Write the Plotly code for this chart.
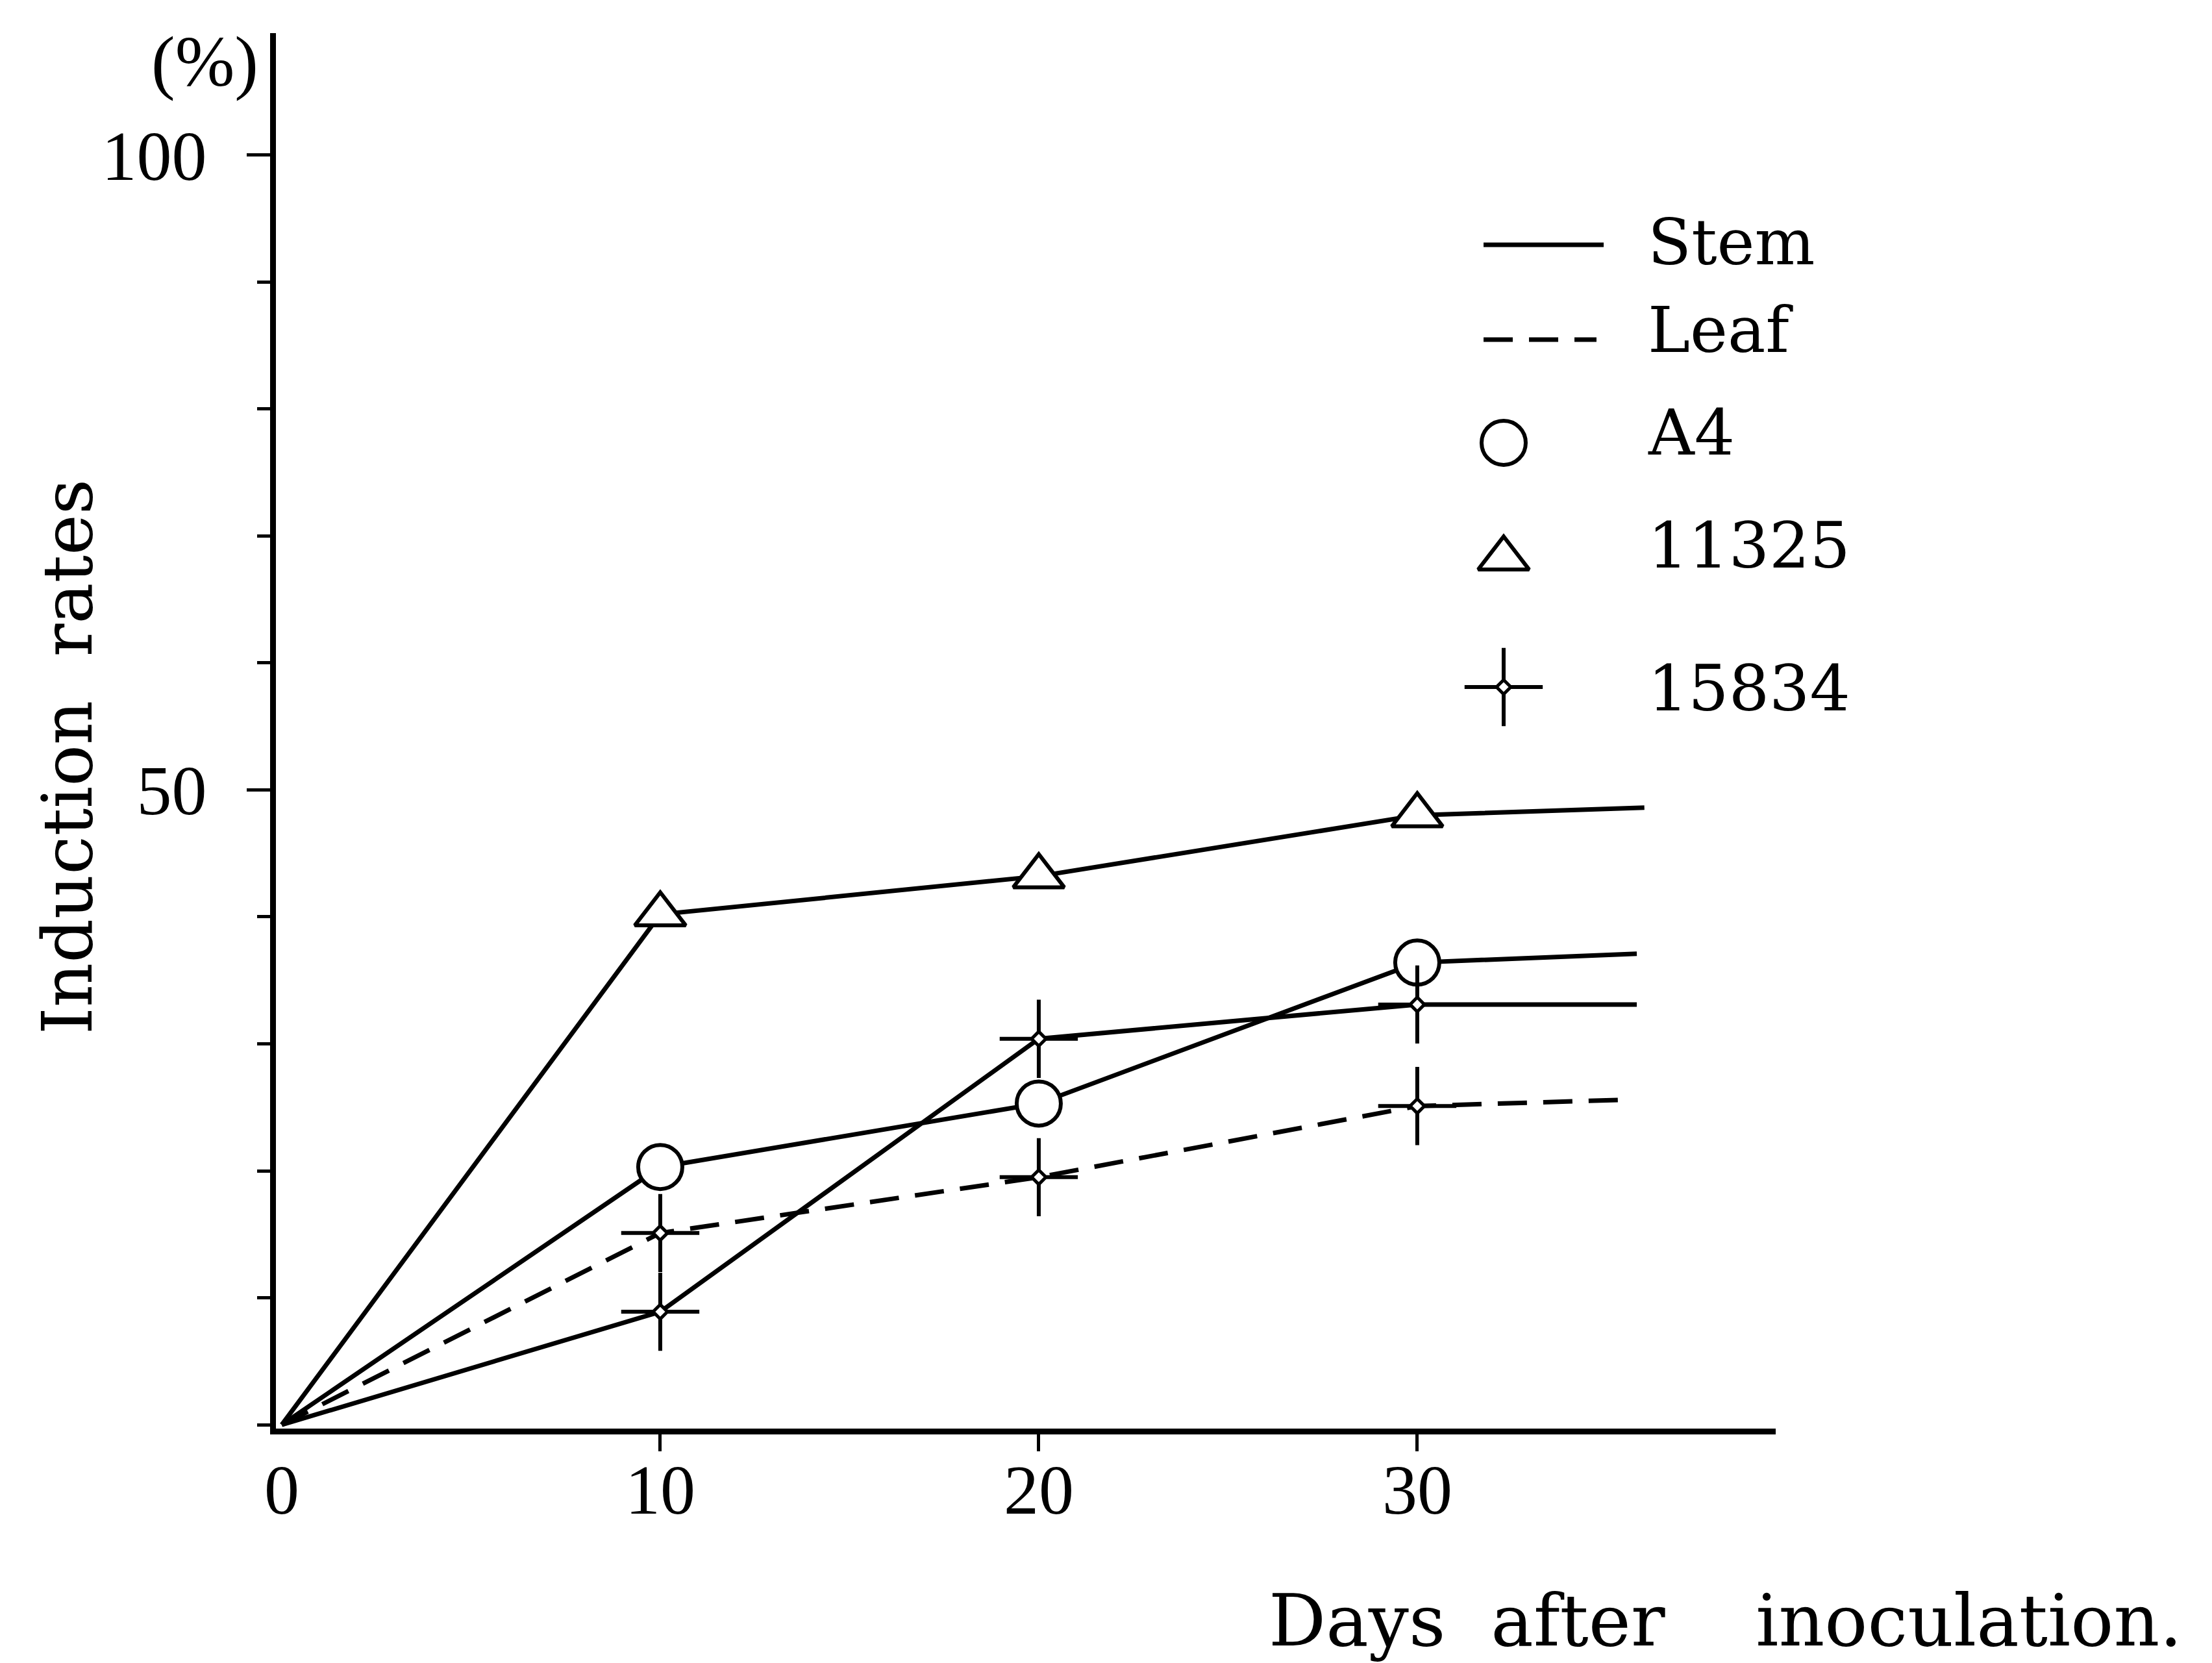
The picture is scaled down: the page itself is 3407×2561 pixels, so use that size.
import plotly.graph_objects as go

# ---- data ----
days = [0, 10, 20, 30]
stem_11325 = [0, 40.2, 43.2, 48.0]
stem_a4 = [0, 20.3, 25.3, 36.4]
stem_15834 = [0, 8.9, 30.4, 33.1]
leaf_15834 = [0, 15.1, 19.5, 25.1]
# trailing end point of each drawn line (day, value)
end_11325 = [36.0, 48.6]
end_a4 = [35.8, 37.1]
end_15834_stem = [35.8, 33.1]
end_15834_leaf = [35.5, 25.6]

x_tick_marks = [10, 20, 30]
x_tick_labels = [0, 10, 20, 30]
y_tick_labels = [50, 100]
legend_labels = ["Stem", "Leaf", "A4", "11325", "15834"]

BLACK = "black"
SERIF = "DejaVu Serif"
NUMF = "Liberation Serif"
LW = 7

fig = go.Figure()

series = [
    (stem_11325, end_11325, "solid", "triangle-up"),
    (stem_a4, end_a4, "solid", "circle"),
    (stem_15834, end_15834_stem, "solid", "cross"),
    (leaf_15834, end_15834_leaf, "45px,25px", "cross"),
]

# lines first
for vals, end, dash, _ in series:
    fig.add_trace(go.Scatter(
        x=days + [end[0]], y=vals + [end[1]], mode="lines",
        line=dict(color=BLACK, width=LW, dash=dash),
        hoverinfo="skip", cliponaxis=False))

# markers on top
def add_markers(x, y, sym, xa="x", ya="y"):
    if sym == "cross":
        fig.add_trace(go.Scatter(
            x=x, y=y, mode="markers", xaxis=xa, yaxis=ya,
            marker=dict(symbol="cross-thin", size=86, color=BLACK,
                        line=dict(color=BLACK, width=6)),
            hoverinfo="skip", cliponaxis=False))
        fig.add_trace(go.Scatter(
            x=x, y=y, mode="markers", xaxis=xa, yaxis=ya,
            marker=dict(symbol="diamond", size=17, color="white",
                        line=dict(color=BLACK, width=5)),
            hoverinfo="skip", cliponaxis=False))
    else:
        fig.add_trace(go.Scatter(
            x=x, y=y, mode="markers", xaxis=xa, yaxis=ya,
            marker=dict(symbol=sym, size=68, color="white",
                        line=dict(color=BLACK, width=6)),
            hoverinfo="skip", cliponaxis=False))

for vals, end, dash, sym in series:
    add_markers(days[1:], vals[1:], sym)

# ---- legend (drawn by hand in paper fractions of the plot area) ----
leg_text_x = 0.9140
leg_rows = [0.8500, 0.7872, 0.7137, 0.6327, 0.5307]
leg_line_x = [0.8052, 0.8853]
leg_sym_x = 0.8186
leg_sym_y = [0.7064, 0.6235, 0.5314]

for sym, yy in zip(["circle", "triangle-up", "cross"], leg_sym_y):
    add_markers([leg_sym_x], [yy], sym, xa="x2", ya="y2")

shapes = [
    dict(type="line", xref="paper", yref="paper", x0=leg_line_x[0], x1=leg_line_x[1],
         y0=0.8483, y1=0.8483, line=dict(color=BLACK, width=LW)),
    dict(type="line", xref="paper", yref="paper", x0=leg_line_x[0], x1=0.8805,
         y0=0.7804, y1=0.7804, line=dict(color=BLACK, width=LW, dash="45px,25px")),
]

annotations = []
for lab, yy in zip(legend_labels, leg_rows):
    annotations.append(dict(text=lab, xref="paper", yref="paper", x=leg_text_x, y=yy,
                            xanchor="left", yanchor="middle", showarrow=False,
                            font=dict(family=SERIF, size=98, color=BLACK)))

annotations += [
    dict(text="(%)", xref="paper", yref="paper", x=-0.0472, y=0.9795,
         xanchor="center", yanchor="middle", showarrow=False,
         font=dict(family=NUMF, size=110, color=BLACK)),
    dict(text="Induction  rates", xref="paper", yref="paper", x=-0.1390, y=0.4816,
         xanchor="center", yanchor="middle", textangle=-90, showarrow=False,
         font=dict(family=SERIF, size=106, color=BLACK)),
    dict(text="Days  after    inoculation.", xref="paper", yref="paper", x=0.6610, y=-0.1377,
         xanchor="left", yanchor="middle", showarrow=False,
         font=dict(family=SERIF, size=110, color=BLACK)),
]

# invisible anchor trace so the label axis is drawn
fig.add_trace(go.Scatter(x=[None], y=[None], xaxis="x3", yaxis="y",
                         mode="markers", hoverinfo="skip", showlegend=False))

xr = [-0.154, 39.47]
fig.update_layout(
    width=3407, height=2561,
    margin=dict(l=417, r=680, t=43, b=369, pad=0),
    paper_bgcolor="white", plot_bgcolor="white",
    showlegend=False,
    shapes=shapes, annotations=annotations,
    xaxis=dict(range=xr, showline=True, linewidth=9, linecolor=BLACK,
               showgrid=False, zeroline=False,
               tickmode="array", tickvals=x_tick_marks, ticks="outside",
               ticklen=26, tickwidth=5, tickcolor=BLACK, showticklabels=False),
    xaxis3=dict(range=xr, overlaying="x", anchor="y", side="bottom",
                showline=False, showgrid=False, zeroline=False, ticks="",
                tickmode="array", tickvals=x_tick_labels,
                ticktext=[str(v) for v in x_tick_labels],
                ticklabelstandoff=22,
                tickfont=dict(family=NUMF, size=108, color=BLACK)),
    yaxis=dict(range=[-0.3, 109.6], showline=True, linewidth=9, linecolor=BLACK,
               showgrid=False, zeroline=False,
               tickmode="array", tickvals=y_tick_labels,
               ticktext=[str(v) for v in y_tick_labels],
               ticks="outside", ticklen=36, tickwidth=5, tickcolor=BLACK,
               ticklabelstandoff=40,
               tickfont=dict(family=NUMF, size=108, color=BLACK),
               minor=dict(tick0=0, dtick=10, ticks="outside", ticklen=20,
                          tickwidth=5, tickcolor=BLACK, showgrid=False)),
    xaxis2=dict(range=[0, 1], overlaying="x", visible=False, fixedrange=True),
    yaxis2=dict(range=[0, 1], overlaying="y", visible=False, fixedrange=True),
)

fig.write_html("out.html")
